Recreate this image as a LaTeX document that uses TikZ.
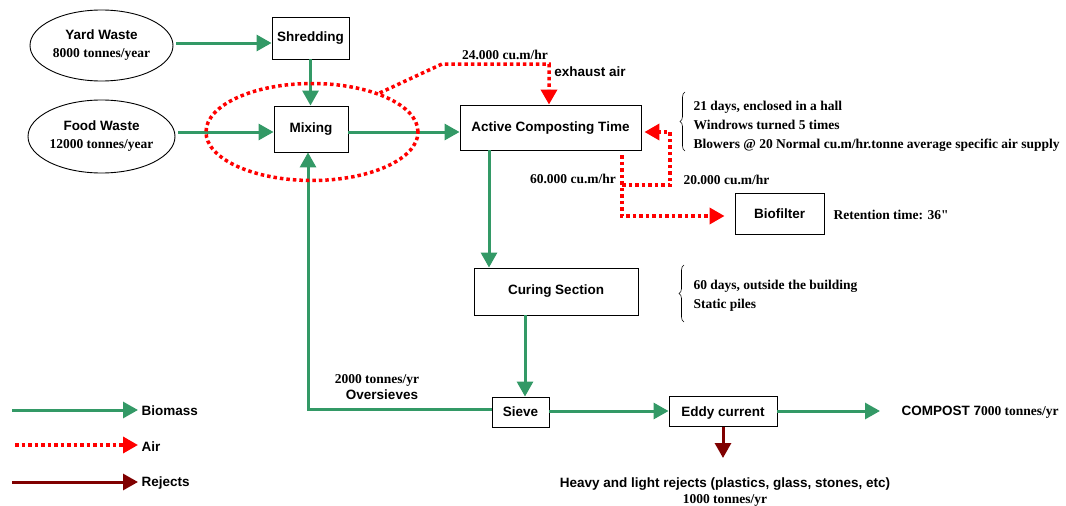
\documentclass[tikz,border=0pt]{standalone}
\usepackage{fontspec}
\setmainfont{Liberation Serif}
\setsansfont{Liberation Sans}
\newfontfamily\rawserif{Liberation Serif}
\usetikzlibrary{arrows.meta,shapes.geometric,decorations.pathreplacing,calc}
\definecolor{biogreen}{RGB}{51,153,102}
\definecolor{airred}{RGB}{255,0,0}
\definecolor{rejred}{RGB}{128,0,0}
\newcommand\flowsize{\fontsize{13.5}{19}\selectfont}
\tikzset{
  tip/.style={-{Triangle[length=15pt,width=16pt]}},
  bio/.style={tip, draw=biogreen, line width=3pt},
  air/.style={tip, draw=airred, line width=3.5pt, dash pattern=on 3.5pt off 3pt},
  rej/.style={tip, draw=rejred, line width=3pt},
  stage/.style={draw, line width=0.9pt, inner sep=0pt, font=\flowsize\sffamily\bfseries},
  source/.style={draw, ellipse, line width=0.9pt, inner sep=0pt, align=center, font=\flowsize},
  sans/.style={font=\flowsize\sffamily\bfseries},
  serif/.style={font=\flowsize\rmfamily\bfseries},
  note/.style={font=\flowsize\rmfamily\bfseries, align=left, anchor=west},
  curly/.style={decorate, decoration={brace, amplitude=5pt}, line width=0.6pt},
}
\begin{document}
\begin{tikzpicture}[x=1pt, y=-1pt, every node/.append style={font=\flowsize}]
\useasboundingbox (0,0) rectangle (1066,506);

% sources
\node[source, minimum width=143, minimum height=71] (yard) at (101.5,45.5)
  {{\sffamily\bfseries Yard Waste}\\[-1pt]{\rmfamily\bfseries 8000 tonnes/year}};
\node[source, minimum width=147, minimum height=73] (food) at (101.5,136.5)
  {{\sffamily\bfseries Food Waste}\\[-1pt]{\rmfamily\bfseries 12000 tonnes/year}};

% process stages
\node[stage, minimum width=77, minimum height=42] (shred) at (310.5,38) {Shredding};
\node[stage, minimum width=74, minimum height=46] (mix) at (311,129) {Mixing};
\node[stage, minimum width=181, minimum height=45, text depth=1pt] (act) at (550.5,127.5) {Active Composting Time};
\node[stage, minimum width=164, minimum height=47] (cur) at (556,291.5) {\raisebox{3pt}{Curing Section}};
\node[stage, minimum width=57, minimum height=30] (sieve) at (520.5,412) {Sieve};
\node[stage, minimum width=108, minimum height=30, text depth=0pt] (eddy) at (723,411.5) {Eddy current};
\node[stage, minimum width=89, minimum height=41] (biof) at (779.5,214) {Biofilter};

% outputs
\node[anchor=west] (compost) at (898,412)
  {{\sffamily\bfseries COMPOST 7}{\rmfamily\bfseries 000 tonnes/yr}};
\node[align=center, anchor=north] (rejects) at (725,474)
  {{\sffamily\bfseries Heavy and light rejects (plastics, glass, stones, etc)}\\[-3pt]{\rmfamily\bfseries 1000 tonnes/yr}};

% biomass flow
\draw[bio] ($(yard.east)+(3,-2.5)$) -- (shred.west |- 0,43);
\draw[bio] (shred.south) -- (mix.north -| shred.south);
\draw[bio] ($(food.east)+(3,-4.5)$) -- (mix.west |- 0,132);
\draw[bio] (mix.east |- 0,132) -- (act.west |- 0,132);
\draw[bio] (act.south -| 489,0) -- (cur.north -| 489,0);
\draw[bio] (cur.south -| 525,0) -- (sieve.north -| 525,0);
\draw[bio] (sieve.east |- 0,411) -- (eddy.west |- 0,411);
\draw[bio, shorten >=18pt] (eddy.east |- 0,411) -- (compost.west |- 0,411);
\draw[bio] (sieve.west |- 0,409) -| ($(mix.south)+(-3,0)$);

% rejects
\draw[rej] (eddy.south) -- (eddy.south |- 0,458);

% air flow
\node[draw=airred, ellipse, line width=3.5pt, dash pattern=on 3.5pt off 3pt,
      minimum width=212, minimum height=97] (mixair) at (312,132) {};
\draw[air] (mixair.30) -- (442,64) -| ($(act.north)+(-1.5,0)$);
\draw[air, shorten <=5pt, shorten >=10pt] (act.south -| 622,0) |- (biof.west |- 0,216);
\draw[air, shorten >=3pt] (622,185) -| (670,132) -- (act.east |- 0,132);

% air labels
\node[serif] (l24) at (505,55) {24.000 cu.m/hr};
\node[sans] (lex) at (590,72) {exhaust air};
\node[serif] (l60) at (573,179) {60.000 cu.m/hr};
\node[serif, anchor=west] (l20) at (680,180) {20.000 cu.m/hr};
\node[anchor=west, font=\flowsize\rawserif\bfseries] (lret) at (830,215) {Retention time: 36"};
\node[serif] (lton) at (377,380) {2000 tonnes/yr};
\node[sans] (lover) at (382,395) {Oversieves};

% stage notes
\draw[curly] (685,151) -- (685,92);
\node[note] (n1) at (690,126) {21 days, enclosed in a hall\\Windrows turned 5 times\\Blowers @ 20 Normal cu.m/hr.tonne average specific air supply};
\draw[curly] (684,322) -- (684,265);
\node[note] (n2) at (690,296) {60 days, outside the building\\Static piles};

% legend
\node[sans, anchor=west] (kbio) at (138,411) {Biomass};
\node[sans, anchor=west] (kair) at (138,447) {Air};
\node[sans, anchor=west] (krej) at (138,483) {Rejects};
\coordinate (kb) at (12,410);
\coordinate (ka) at (15,445);
\coordinate (kr) at (12,482);
\draw[bio] (kb) -- (kbio.west |- kb);
\draw[air] (ka) -- (kair.west |- ka);
\draw[rej] (kr) -- (krej.west |- kr);
\end{tikzpicture}
\end{document}
